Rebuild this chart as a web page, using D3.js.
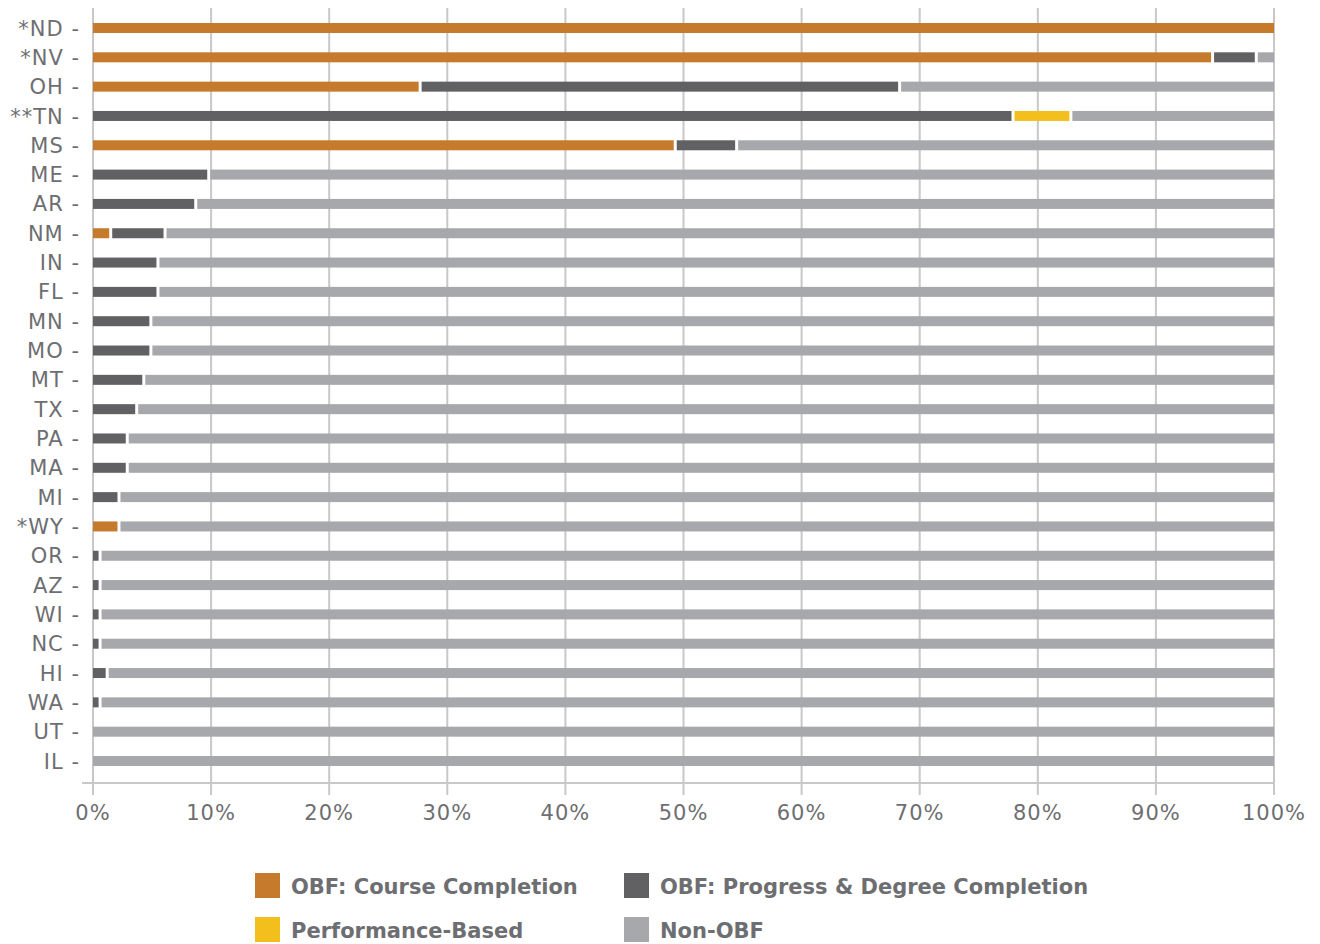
<!DOCTYPE html>
<html>
<head>
<meta charset="utf-8">
<script src="https://cdn.jsdelivr.net/npm/d3@7"></script>
<style>
  body { margin: 0; background: #fff; }
  text { font-family: "DejaVu Sans", Verdana, sans-serif; fill: #6d6e71; }
</style>
</head>
<body>
<div id="chart"></div>
<script>
const states = ["*ND", "*NV", "OH", "**TN", "MS", "ME", "AR", "NM", "IN", "FL", "MN", "MO", "MT",
  "TX", "PA", "MA", "MI", "*WY", "OR", "AZ", "WI", "NC", "HI", "WA", "UT", "IL"];
const courseCompletion = [100, 94.8, 27.7, 0, 49.3, 0, 0, 1.5, 0, 0, 0, 0, 0,
  0, 0, 0, 0, 2.2, 0, 0, 0, 0, 0, 0, 0, 0];
const progressDegree = [0, 3.7, 40.6, 77.9, 5.2, 9.8, 8.7, 4.6, 5.5, 5.5, 4.9, 4.9, 4.3,
  3.7, 2.9, 2.9, 2.2, 0, 0.6, 0.6, 0.6, 0.6, 1.2, 0.6, 0, 0];
const performanceBased = [0, 0, 0, 4.9, 0, 0, 0, 0, 0, 0, 0, 0, 0,
  0, 0, 0, 0, 0, 0, 0, 0, 0, 0, 0, 0, 0];
const nonObf = [0, 1.5, 31.7, 17.2, 45.5, 90.2, 91.3, 93.9, 94.5, 94.5, 95.1, 95.1, 95.7,
  96.3, 97.1, 97.1, 97.8, 97.8, 99.4, 99.4, 99.4, 99.4, 98.8, 99.4, 100, 100];
const seriesNames = ["OBF: Course Completion", "OBF: Progress & Degree Completion", "Performance-Based", "Non-OBF"];
const xTicks = [0, 10, 20, 30, 40, 50, 60, 70, 80, 90, 100];

const colors = ["#c67a2b", "#616163", "#f2bf1d", "#a7a8ab"];
const gridColor = "#c8c8cb";

const width = 1320, height = 944;
const svg = d3.select("#chart").append("svg")
  .attr("width", width)
  .attr("height", height);

const x = d3.scaleLinear().domain([0, 100]).range([93, 1274]);
const y = d3.scalePoint().domain(states).range([28, 761]);
const color = d3.scaleOrdinal().domain(seriesNames).range(colors);
const barH = 10;

const rows = states.map((s, i) => ({
  state: s,
  [seriesNames[0]]: courseCompletion[i],
  [seriesNames[1]]: progressDegree[i],
  [seriesNames[2]]: performanceBased[i],
  [seriesNames[3]]: nonObf[i]
}));
const stacked = d3.stack().keys(seriesNames)(rows);

// gridlines
svg.append("g")
  .selectAll("line")
  .data(xTicks)
  .join("line")
  .attr("x1", d => x(d)).attr("x2", d => x(d))
  .attr("y1", 8).attr("y2", 795)
  .attr("stroke", gridColor)
  .attr("stroke-width", 2);

// bottom axis line
svg.append("line")
  .attr("x1", 82).attr("x2", x(100))
  .attr("y1", 783).attr("y2", 783)
  .attr("stroke", gridColor)
  .attr("stroke-width", 2);

// bars, with a small white gap between segments
const layer = svg.append("g")
  .selectAll("g")
  .data(stacked)
  .join("g")
  .attr("fill", d => color(d.key));

layer.selectAll("rect")
  .data(d => d.filter(p => p[1] - p[0] > 0))
  .join("rect")
  .attr("x", d => x(d[0]) + (d[0] > 0 ? 1.5 : 0))
  .attr("y", d => y(d.data.state) - barH / 2)
  .attr("width", d => Math.max(0, x(d[1]) - x(d[0]) - (d[0] > 0 ? 3 : 1.5) + (d[1] >= 100 ? 1.5 : 0)))
  .attr("height", barH);

// y labels
svg.append("g")
  .selectAll("text")
  .data(states)
  .join("text")
  .attr("x", 80)
  .attr("y", d => y(d))
  .attr("dy", "0.36em")
  .attr("text-anchor", "end")
  .style("font-size", "21px")
  .style("letter-spacing", "1px")
  .text(d => d + " -");

// x tick labels
svg.append("g")
  .selectAll("text")
  .data(xTicks)
  .join("text")
  .attr("x", d => x(d))
  .attr("y", 812)
  .attr("dy", "0.36em")
  .attr("text-anchor", "middle")
  .style("font-size", "21px")
  .style("letter-spacing", "1px")
  .text(d => d + "%");

// legend
const legendPos = [[255, 873], [624, 873], [255, 917], [624, 917]];
const legend = svg.append("g")
  .selectAll("g")
  .data(seriesNames)
  .join("g")
  .attr("transform", (d, i) => `translate(${legendPos[i][0]},${legendPos[i][1]})`);

legend.append("rect")
  .attr("width", 25).attr("height", 25)
  .attr("fill", d => color(d));

legend.append("text")
  .attr("x", 36)
  .attr("y", 13)
  .attr("dy", "0.36em")
  .style("font-size", "21px")
  .style("font-weight", "bold")
  .text(d => d);
</script>
</body>
</html>
